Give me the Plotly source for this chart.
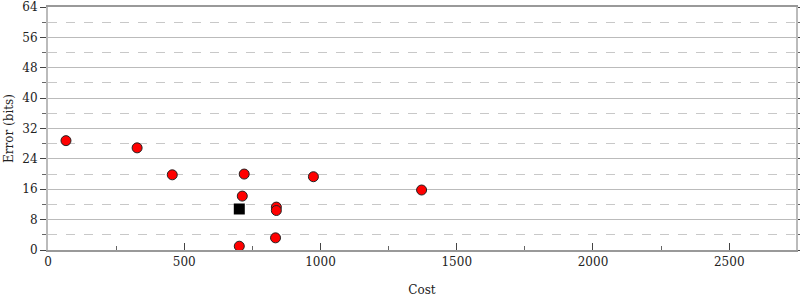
import plotly.graph_objects as go

cost = [66, 327, 456, 720, 713, 838, 838, 835, 702, 974, 1371]
error = [28.8, 26.9, 19.8, 20.0, 14.2, 11.3, 10.4, 3.2, 1.0, 19.3, 15.8]
best_cost = [702]
best_error = [10.8]

x_ticks = [0, 500, 1000, 1500, 2000, 2500]
y_ticks = [0, 8, 16, 24, 32, 40, 48, 56, 64]

font = "DejaVu Serif"

fig = go.Figure()
fig.add_trace(go.Scatter(
    x=cost, y=error, mode="markers",
    marker=dict(color="#ff0000", size=10, line=dict(color="#222", width=1)),
    showlegend=False, cliponaxis=False))
fig.add_trace(go.Scatter(
    x=best_cost, y=best_error, mode="markers",
    marker=dict(color="#000", size=11, symbol="square", line=dict(color="#000", width=0)),
    showlegend=False, cliponaxis=False))

fig.update_layout(
    width=800, height=300,
    margin=dict(l=48, r=4, t=7, b=50, autoexpand=False),
    plot_bgcolor="white", paper_bgcolor="white",
    font=dict(family=font, size=12, color="#222"),
)
fig.update_xaxes(
    range=[0, 2745], tickvals=x_ticks, ticktext=[str(v) for v in x_ticks],
    showgrid=False, zeroline=False, automargin=False,
    showline=True, linecolor="#999", linewidth=2, mirror=True,
    ticks="inside", ticklen=7, tickcolor="#444", tickwidth=1,
    minor=dict(dtick=250, tick0=0, ticks="inside", ticklen=4, tickcolor="#666", showgrid=False),
    title=dict(text="Cost", standoff=17, font=dict(family=font, size=12)),
    tickfont=dict(family=font, size=12, color="#222"),
)
fig.update_yaxes(
    range=[0, 64], tickvals=y_ticks, ticktext=[str(v) for v in y_ticks],
    showgrid=True, gridcolor="#bbbbbb", gridwidth=1, zeroline=False, automargin=False,
    showline=True, linecolor="#bbb", linewidth=2, mirror="allticks",
    ticks="outside", ticklen=6, tickcolor="#444", tickwidth=1,
    minor=dict(dtick=4, tick0=0, ticks="outside", ticklen=4, tickcolor="#666",
               showgrid=True, gridcolor="#c8c8c8", griddash="dash", gridwidth=1),
    title=dict(text="Error (bits)", standoff=6, font=dict(family=font, size=12)),
    tickfont=dict(family=font, size=12, color="#222"),
)

fig.write_html("out.html")
